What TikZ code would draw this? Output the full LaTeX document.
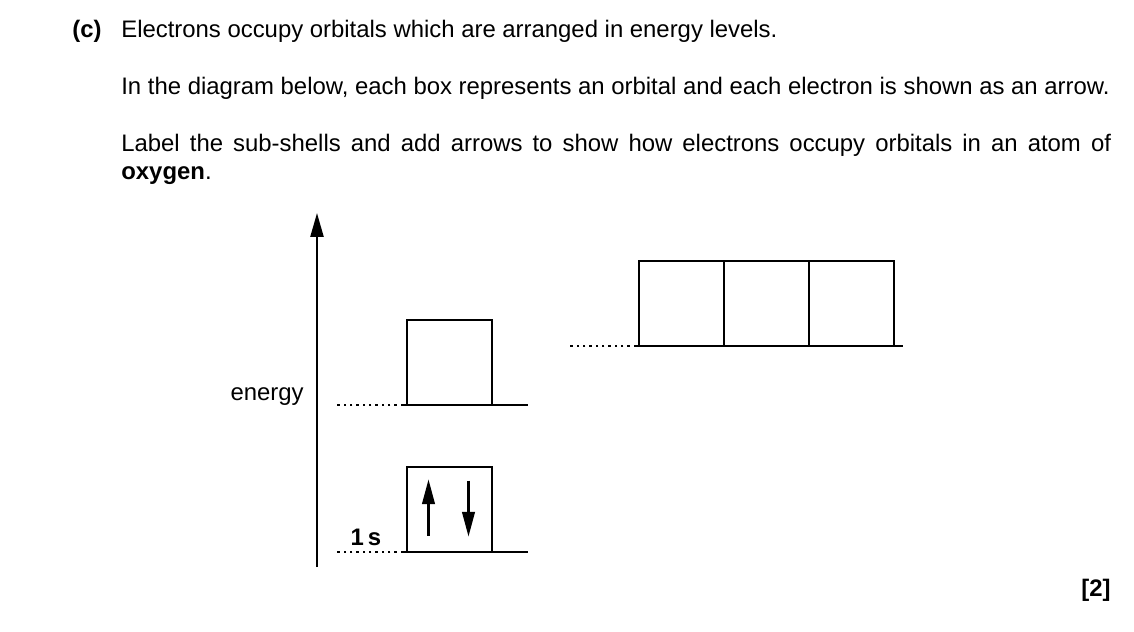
\documentclass[tikz,border=0pt]{standalone}
\usepackage{fontspec}
\setmainfont{Liberation Sans}
\usetikzlibrary{positioning,arrows.meta}

\tikzset{
	orbital/.style={draw, line width=1.2pt, minimum width=1.7cm, minimum height=1.7cm, inner sep=0pt, outer sep=0pt},
	level/.style={line width=1.2pt},
	dotline/.style={line width=1.3pt, dash pattern=on 1.3pt off 2.3pt},
	electron/.style={line width=1.2pt, -{Triangle[length=14pt,width=7.2pt]}},
	axis/.style={line width=1.2pt, -{Triangle[length=13.6pt,width=7.4pt]}},
	question/.style={anchor=base west, inner sep=0pt, font=\fontsize{13.6}{16.4}\selectfont},
}

\begin{document}
\begin{tikzpicture}[x=0.02cm, y=-0.02cm]
	\useasboundingbox (0,0) rectangle (1134,632);

%question text
	\node[question] (part) at (72,37) {\textbf{(c)}};
	\node[question] (line1) at (121,37) {Electrons occupy orbitals which are arranged in energy levels.};
	\node[question] (line2) at (121,94) {In the diagram below, each box represents an orbital and each electron is shown as an arrow.};
	\node[question, text width=19.8cm, align=justify] (line3) at (121,151)
		{Label the sub-shells and add arrows to show how electrons occupy orbitals in an atom of\linebreak \textbf{oxygen}.};

%energy axis
	\coordinate (axbot) at (317,567);
	\coordinate (axtop) at (317,213);
	\draw[axis] (axbot) -- (axtop);
	\node[anchor=east, inner sep=0pt, font=\fontsize{13.6}{16}\selectfont] (energy) at (304,397) {energy};

%orbitals
	\node[orbital] (s1) at (449.5,509.5) {};
	\node[orbital] (s2) at (449.5,362.5) {};
	\node[orbital] (p1) at (681.5,303.5) {};
	\node[orbital, right=0pt of p1] (p2) {};
	\node[orbital, right=0pt of p2] (p3) {};

%levels
	\draw[level] (s1.south west) ++(-4,0) coordinate (s1l) -- ++(125,0);
	\draw[dotline] (s1l) -- ++(-66,0);
	\draw[level] (s2.south west) ++(-4,0) coordinate (s2l) -- ++(125,0);
	\draw[dotline] (s2l) -- ++(-66,0);
	\draw[level] (p1.south west) ++(-3,0) coordinate (p1l) -- ++(267,0);
	\draw[dotline] (p1l) -- ++(-68,0);

%electrons in 1s
	\draw[electron] ([shift={(-21,26)}]s1.center) -- ++(0,-56);
	\draw[electron] ([shift={(19,-29)}]s1.center) -- ++(0,56);
	\node[font=\fontsize{13.6}{16}\selectfont\bfseries, inner sep=0pt] (s1lab) at (366,537) {1\,s};

%marks
	\node[anchor=east, inner sep=0pt, font=\fontsize{13.6}{16}\selectfont\bfseries] (marks) at (1111,590) {[2]};
\end{tikzpicture}
\end{document}
